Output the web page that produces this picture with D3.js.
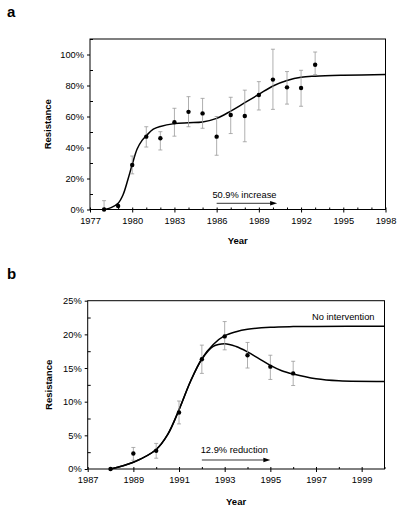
<!DOCTYPE html>
<html><head><meta charset="utf-8">
<script src="https://cdn.jsdelivr.net/npm/d3@7/dist/d3.min.js"></script>
<style>
body{margin:0;background:#fff;}
svg text{font-family:"Liberation Sans",Arial,sans-serif;}
</style></head>
<body><svg id="c" width="400" height="511"></svg>
<script>
// ---------- Panel a data ----------
const aYears = [1978,1979,1980,1981,1982,1983,1984,1985,1986,1987,1988,1989,1990,1991,1992,1993];
const aValues = [0,2.3,28.7,47,46,56.3,63,62,47,61,60.3,73.9,83.8,78.8,78.4,93.4];
const aUpper = [5.7,2.3,34.5,53.4,50.2,65.3,72.8,71.7,60,72.4,77,82.5,103.4,89,89.8,101.6];
const aLower = [0,2.3,23,40.3,38.4,47.3,53.4,52.4,35,49,43.7,64.2,64.6,68,66.6,87];
const aCurveYears = [1978,1978.5,1979,1979.35,1979.7,1980,1980.35,1980.7,1981,1981.5,1982,1983,1984,1985,1986,1987,1988,1989,1990,1991,1992,1993,1995,1998];
const aCurveValues = [0,1.2,4,9.5,19.5,29,39,44.6,47.6,51.8,53.6,55.4,56,56.5,58.8,63.5,68.9,74.3,79.7,83.2,85.3,86,86.6,87.1];
const aYTicks = [0,20,40,60,80,100];
const aXTicks = [1977,1980,1983,1986,1989,1992,1995,1998];

// ---------- Panel b data ----------
const bYears = [1988,1989,1990,1991,1992,1993,1994,1995,1996];
const bValues = [0,2.3,2.7,8.4,16.3,19.7,16.9,15.2,14.2];
const bUpper = [0,3.2,3.8,10.1,18.4,21.9,18.8,16.9,16.0];
const bLower = [0,1.3,1.6,6.7,14.2,17.7,15.0,13.3,12.4];
const bNoIntYears = [1988,1989,1990,1990.5,1991,1991.5,1992,1992.5,1993,1993.5,1994,1995,1996,1997,2000];
const bNoIntValues = [0,1.0,2.9,5.1,8.8,13,16.4,18.5,19.8,20.4,20.75,21.05,21.15,21.18,21.2];
const bIntYears = [1988,1989,1990,1990.5,1991,1991.5,1992,1992.5,1993,1993.5,1994,1994.5,1995,1995.5,1996,1997,1998,2000];
const bIntValues = [0,1.0,2.9,5.1,8.8,13,16.3,18.2,18.6,18.2,17.4,16.4,15.4,14.6,14.1,13.4,13.1,13.0];
const bYTicks = [0,5,10,15,20,25];
const bXTicks = [1987,1989,1991,1993,1995,1997,1999];

const svg = d3.select("#c");

function panel(o){
  const g = svg.append("g");
  const x = d3.scaleLinear().domain(o.xDomain).range([o.left,o.right]);
  const y = d3.scaleLinear().domain(o.yDomain).range([o.bottom,o.top]);
  g.append("text").attr("x",7).attr("y",o.letterY).attr("font-size",15).attr("font-weight","bold").text(o.letter);
  g.append("rect").attr("x",o.left).attr("y",o.top).attr("width",o.right-o.left).attr("height",o.bottom-o.top)
    .attr("fill","none").attr("stroke","#000").attr("stroke-width",1);
  const ya = d3.axisLeft(y).tickValues(o.yTicks).tickSize(3).tickFormat(d=>d+"%");
  const yg = g.append("g").attr("transform",`translate(${o.left},0)`).call(ya);
  yg.select(".domain").remove();
  yg.selectAll("text").attr("font-size",9.3).attr("font-family","Liberation Sans, Arial, sans-serif").attr("fill","#000");
  const yMinor = d3.axisRight(y).tickValues(o.yMinor).tickSize(3).tickFormat("");
  const ymg = g.append("g").attr("transform",`translate(${o.left},0)`).call(yMinor);
  ymg.select(".domain").remove();
  const xa = d3.axisBottom(x).tickValues(o.xTicks).tickSize(3).tickFormat(d3.format("d"));
  const xg = g.append("g").attr("transform",`translate(0,${o.bottom})`).call(xa);
  xg.select(".domain").remove();
  xg.selectAll("text").attr("font-size",9.3).attr("font-family","Liberation Sans, Arial, sans-serif").attr("fill","#000").attr("dy","0.9em");
  const xMinor = d3.axisTop(x).tickValues(d3.range(o.xDomain[0],o.xDomain[1]+1)).tickSize(2).tickFormat("");
  const xmg = g.append("g").attr("transform",`translate(0,${o.bottom})`).call(xMinor);
  xmg.select(".domain").remove();
  g.append("text").attr("transform",`translate(${o.ytX},${(o.top+o.bottom)/2}) rotate(-90)`)
    .attr("text-anchor","middle").attr("font-size",9.5).attr("font-weight","bold").text("Resistance");
  g.append("text").attr("x",(o.left+o.right)/2).attr("y",o.xtY).attr("text-anchor","middle")
    .attr("font-size",9.5).attr("font-weight","bold").text("Year");
  return {g,x,y};
}

function errorBars(p, years, vals, up, lo){
  const eb = p.g.append("g").attr("stroke","#9a9a9a").attr("stroke-width",0.8);
  years.forEach((yr,i)=>{
    if (up[i]===lo[i]) return;
    const cx = p.x(yr);
    eb.append("line").attr("x1",cx).attr("x2",cx).attr("y1",p.y(up[i])).attr("y2",p.y(lo[i]));
    eb.append("line").attr("x1",cx-2).attr("x2",cx+2).attr("y1",p.y(up[i])).attr("y2",p.y(up[i]));
    eb.append("line").attr("x1",cx-2).attr("x2",cx+2).attr("y1",p.y(lo[i])).attr("y2",p.y(lo[i]));
  });
  p.g.append("g").selectAll("circle").data(years).join("circle")
    .attr("cx",d=>p.x(d)).attr("cy",(d,i)=>p.y(vals[i])).attr("r",2.2).attr("fill","#000");
}

function curve(p, xs, ys){
  const line = d3.line().x(d=>p.x(d[0])).y(d=>p.y(d[1])).curve(d3.curveCatmullRom.alpha(0.5));
  p.g.append("path").datum(xs.map((v,i)=>[v,ys[i]])).attr("d",line)
    .attr("fill","none").attr("stroke","#000").attr("stroke-width",1.5);
}

function arrow(p, x0, x1, yv){
  const X0=p.x(x0), X1=p.x(x1), Y=p.y(yv);
  p.g.append("line").attr("x1",X0).attr("x2",X1-5).attr("y1",Y).attr("y2",Y).attr("stroke","#000").attr("stroke-width",0.8);
  p.g.append("path").attr("d",`M${X1},${Y} L${X1-7},${Y-2.2} L${X1-7},${Y+2.2} Z`).attr("fill","#000");
}

// Panel a
const pa = panel({letter:"a",letterY:17,xDomain:[1977,1998],yDomain:[0,110],left:90,right:385.5,top:39,bottom:209.5,
  yTicks:aYTicks,yMinor:[10,30,50,70,90,110],xTicks:aXTicks,ytX:51,xtY:244});
curve(pa, aCurveYears, aCurveValues);
errorBars(pa, aYears, aValues, aUpper, aLower);
pa.g.append("text").attr("x",pa.x(1985.7)).attr("y",197.5).attr("font-size",9.3).text("50.9% increase");
arrow(pa, 1986, 1990.3, (209.5-203.3)/1.55);

// Panel b
const pb = panel({letter:"b",letterY:279,xDomain:[1987,2000],yDomain:[0,25],left:87.7,right:384.5,top:300.7,bottom:469,
  yTicks:bYTicks,yMinor:[2.5,7.5,12.5,17.5,22.5],xTicks:bXTicks,ytX:52,xtY:505});
curve(pb, bNoIntYears, bNoIntValues);
curve(pb, bIntYears, bIntValues);
errorBars(pb, bYears, bValues, bUpper, bLower);
pb.g.append("text").attr("x",pb.x(1991.95)).attr("y",452.5).attr("font-size",9.3).text("12.9% reduction");
arrow(pb, 1992, 1995, (469-460)/6.73);
pb.g.append("text").attr("x",pb.x(2000)-10).attr("y",319.5).attr("text-anchor","end").attr("font-size",9.3).text("No intervention");
</script></body></html>
